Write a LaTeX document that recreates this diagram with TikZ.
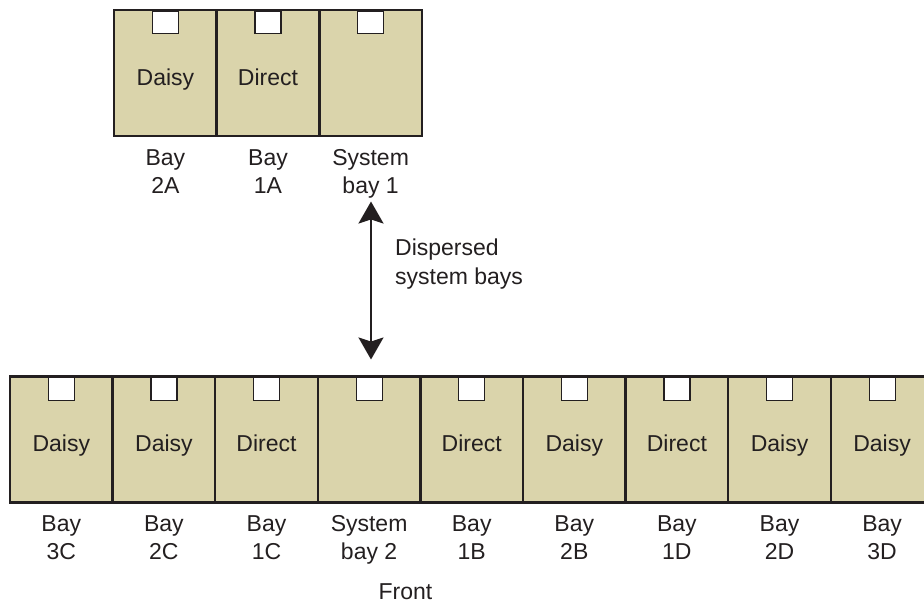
\documentclass[tikz,border=0pt]{standalone}
\usepackage{fontspec}
\setmainfont{Liberation Sans}
\usetikzlibrary{arrows.meta,calc}
\definecolor{baytan}{RGB}{218,212,171}
\definecolor{ink}{RGB}{35,31,32}
\newcommand{\twolines}[2]{\strut #1\\\strut #2}
\begin{document}
\begin{tikzpicture}[x=1pt,y=-1pt,
  baybox/.style={draw=ink,line width=2.5pt,fill=baytan,minimum width=102.6pt,
    minimum height=126pt,inner sep=0pt,outer sep=0pt,
    font=\fontsize{23}{28}\selectfont,text=ink,text height=24pt,text depth=0pt},
  portbox/.style={draw=ink,line width=1.2pt,fill=white,minimum width=26pt,
    minimum height=22.5pt,inner sep=0pt,outer sep=0pt,anchor=north},
  baylabel/.style={align=center,font=\fontsize{23}{28.5}\selectfont,text=ink,
    inner sep=0pt,anchor=north},
  plaintext/.style={font=\fontsize{23}{29}\selectfont,text=ink,inner sep=0pt},
  dblarrow/.style={draw=ink,line width=2pt,
    {Stealth[length=22pt,width=25pt,inset=4pt]}-{Stealth[length=22pt,width=25pt,inset=4pt]}}
]
\useasboundingbox (0,0) rectangle (924,603);
\clip (0,0) rectangle (924,603);
% top row
\foreach \n/\x/\t/\la/\lb in {t1/165.4/Daisy/Bay/2A,t2/268.0/Direct/Bay/1A,t3/370.6//System/bay 1}{
  \node[baybox] (\n) at (\x,73) {\t};
  \node[portbox] (\n p) at ([yshift=-1.2pt]\n.north) {};
  \node[baylabel] (\n l) at ([yshift=-9pt]\n.south) {\twolines{\la}{\lb}};
}
% bottom row
\foreach \n/\x/\t/\la/\lb in {b1/61.3/Daisy/Bay/3C,b2/163.9/Daisy/Bay/2C,b3/266.5/Direct/Bay/1C,
  b4/369.1//System/bay 2,b5/471.7/Direct/Bay/1B,b6/574.3/Daisy/Bay/2B,
  b7/676.9/Direct/Bay/1D,b8/779.5/Daisy/Bay/2D,b9/882.1/Daisy/Bay/3D}{
  \node[baybox] (\n) at (\x,439.5) {\t};
  \node[portbox] (\n p) at ([yshift=-1.2pt]\n.north) {};
  \node[baylabel] (\n l) at ([yshift=-8.5pt]\n.south) {\twolines{\la}{\lb}};
}
\node[plaintext,anchor=base] (front) at (405.5,599) {Front};
% arrow
\coordinate (atop) at (371,201.5);
\coordinate (abot) at (371,359.5);
\draw[dblarrow] (atop) -- (abot);
\node[plaintext,align=left,anchor=north west] (disp) at (395,234.5) {\strut Dispersed\\\strut system bays};
\end{tikzpicture}
\end{document}
